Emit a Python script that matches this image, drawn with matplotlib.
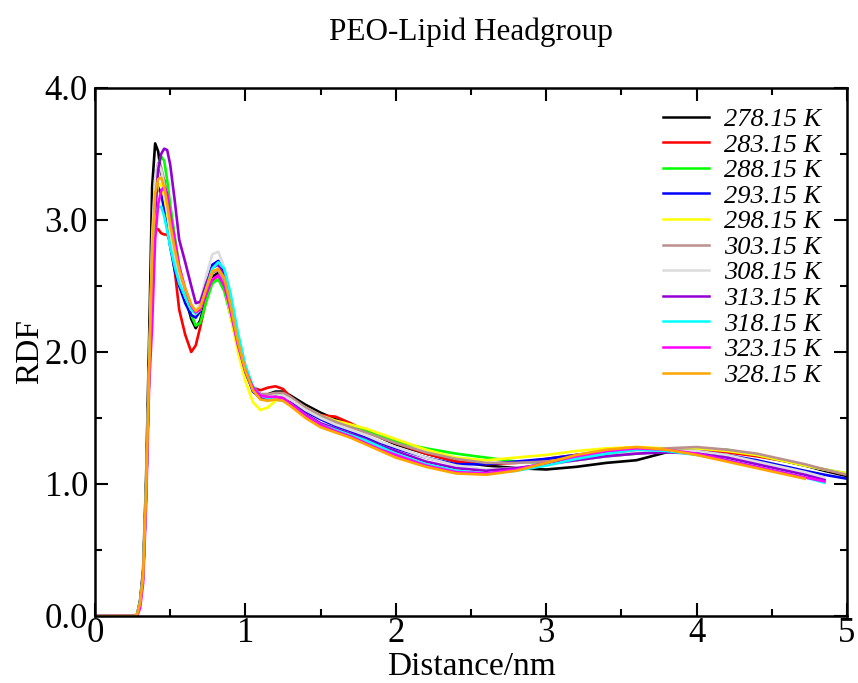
import numpy as np
import matplotlib.pyplot as plt
from matplotlib.ticker import MultipleLocator

plt.rcParams['font.family'] = 'Liberation Serif'

nan = np.nan

# distance grid (nm)
r = [0.00, 0.26, 0.28, 0.30, 0.32, 0.34, 0.36, 0.38, 0.40, 0.42, 0.44, 0.46, 0.48, 0.50,
     0.53, 0.56, 0.60, 0.64, 0.67, 0.70, 0.74, 0.78, 0.82, 0.86, 0.90, 0.95, 1.00, 1.05,
     1.10, 1.15, 1.20, 1.25, 1.30, 1.40, 1.50, 1.60, 1.70, 1.80, 1.90, 2.00, 2.20, 2.40,
     2.60, 2.80, 3.00, 3.20, 3.40, 3.60, 3.80, 4.00, 4.20, 4.40, 4.60, 4.72, 4.85, 5.00]

labels = ['278.15 K', '283.15 K', '288.15 K', '293.15 K', '298.15 K', '303.15 K',
          '308.15 K', '313.15 K', '318.15 K', '323.15 K', '328.15 K']
colors = ['black', 'red', '#00ff00', 'blue', 'yellow', '#bc8f8f',
          '#dcdcdc', '#9400d3', 'cyan', 'magenta', 'orange']

rdf_278 = [0, 0, 0.01, 0.12, 0.35, 1.05, 2.10, 3.25, 3.58, 3.52, 3.35, 3.30, 3.15, 2.95,
           2.75, 2.58, 2.42, 2.25, 2.18, 2.24, 2.42, 2.57, 2.60, 2.50, 2.30, 2.05, 1.85, 1.72,
           1.68, 1.68, 1.70, 1.70, 1.67, 1.60, 1.54, 1.49, 1.45, 1.41, 1.35, 1.30, 1.23, 1.17,
           1.14, 1.12, 1.11, 1.13, 1.16, 1.18, 1.24, 1.27, 1.25, 1.22, 1.17, 1.14, 1.10, 1.06]
rdf_283 = [0, 0, 0.01, 0.10, 0.30, 0.95, 1.85, 2.60, 2.93, 2.93, 2.90, 2.89, 2.89, 2.84,
           2.62, 2.32, 2.13, 2.00, 2.05, 2.19, 2.40, 2.54, 2.58, 2.50, 2.30, 2.05, 1.86, 1.73,
           1.71, 1.73, 1.74, 1.72, 1.66, 1.57, 1.52, 1.51, 1.46, 1.40, 1.35, 1.31, 1.23, 1.17,
           1.15, 1.16, 1.19, 1.22, 1.25, 1.26, 1.27, 1.26, 1.24, 1.21, 1.17, 1.14, 1.11, 1.07]
rdf_288 = [0, 0, 0.01, 0.10, 0.30, 0.95, 1.85, 2.55, 3.20, 3.42, 3.48, 3.45, 3.30, 3.12,
           2.88, 2.65, 2.45, 2.28, 2.20, 2.22, 2.38, 2.52, 2.55, 2.46, 2.28, 2.03, 1.84, 1.72,
           1.67, 1.66, 1.67, 1.67, 1.65, 1.57, 1.51, 1.47, 1.44, 1.40, 1.36, 1.32, 1.27, 1.23,
           1.20, 1.17, 1.16, 1.18, 1.21, 1.23, 1.25, 1.27, 1.26, 1.22, 1.17, 1.14, 1.11, 1.08]
rdf_293 = [0, 0, 0.01, 0.10, 0.30, 0.95, 1.85, 2.70, 3.15, 3.25, 3.20, 3.08, 2.95, 2.80,
           2.62, 2.50, 2.37, 2.28, 2.26, 2.31, 2.50, 2.66, 2.69, 2.60, 2.38, 2.08, 1.86, 1.70,
           1.65, 1.65, 1.66, 1.66, 1.63, 1.55, 1.49, 1.44, 1.40, 1.35, 1.31, 1.27, 1.20, 1.15,
           1.15, 1.17, 1.19, 1.22, 1.24, 1.26, 1.26, 1.25, 1.22, 1.18, 1.13, 1.10, 1.07, 1.04]
rdf_298 = [0, 0, 0.01, 0.10, 0.30, 0.95, 1.85, 2.65, 3.10, 3.27, 3.27, 3.18, 3.05, 2.90,
           2.70, 2.55, 2.42, 2.32, 2.29, 2.32, 2.46, 2.60, 2.63, 2.52, 2.28, 2.00, 1.78, 1.62,
           1.56, 1.58, 1.63, 1.65, 1.64, 1.58, 1.52, 1.48, 1.45, 1.42, 1.38, 1.34, 1.26, 1.20,
           1.18, 1.20, 1.22, 1.25, 1.27, 1.28, 1.27, 1.27, 1.25, 1.22, 1.17, 1.14, 1.11, 1.08]
rdf_303 = [0, 0, 0.01, 0.10, 0.30, 0.95, 1.85, 2.80, 3.30, 3.43, 3.40, 3.30, 3.15, 2.98,
           2.78, 2.60, 2.45, 2.33, 2.30, 2.34, 2.48, 2.60, 2.62, 2.53, 2.32, 2.05, 1.85, 1.72,
           1.68, 1.68, 1.69, 1.69, 1.66, 1.58, 1.52, 1.47, 1.43, 1.39, 1.35, 1.31, 1.24, 1.19,
           1.16, 1.16, 1.17, 1.20, 1.23, 1.25, 1.27, 1.28, 1.26, 1.23, 1.18, 1.15, 1.11, 1.07]
rdf_308 = [0, 0, 0.01, 0.10, 0.30, 0.95, 1.85, 2.85, 3.32, 3.42, 3.38, 3.25, 3.08, 2.92,
           2.72, 2.55, 2.42, 2.32, 2.30, 2.38, 2.58, 2.74, 2.76, 2.64, 2.40, 2.10, 1.87, 1.72,
           1.66, 1.66, 1.67, 1.67, 1.64, 1.56, 1.50, 1.45, 1.41, 1.37, 1.32, 1.28, 1.20, 1.14,
           1.11, 1.12, 1.14, 1.18, 1.21, 1.24, 1.25, 1.25, 1.22, 1.17, 1.12, 1.09, 1.05, nan]
rdf_313 = [0, 0, 0.01, 0.10, 0.30, 0.95, 1.85, 2.40, 3.05, 3.38, 3.50, 3.54, 3.53, 3.42,
           3.15, 2.85, 2.68, 2.50, 2.37, 2.38, 2.52, 2.64, 2.66, 2.57, 2.35, 2.07, 1.85, 1.71,
           1.65, 1.65, 1.66, 1.65, 1.61, 1.53, 1.46, 1.42, 1.38, 1.34, 1.29, 1.25, 1.17, 1.12,
           1.10, 1.12, 1.15, 1.18, 1.21, 1.23, 1.24, 1.23, 1.20, 1.15, 1.10, 1.07, 1.03, nan]
rdf_318 = [0, 0, 0.01, 0.10, 0.30, 0.95, 1.85, 2.60, 2.98, 3.10, 3.10, 3.03, 2.92, 2.80,
           2.65, 2.52, 2.42, 2.32, 2.29, 2.33, 2.48, 2.63, 2.68, 2.63, 2.45, 2.15, 1.90, 1.74,
           1.67, 1.65, 1.64, 1.63, 1.60, 1.52, 1.45, 1.41, 1.37, 1.33, 1.28, 1.23, 1.15, 1.10,
           1.08, 1.10, 1.14, 1.19, 1.23, 1.26, 1.25, 1.22, 1.18, 1.13, 1.08, 1.05, 1.01, nan]
rdf_323 = [0, 0, 0.00, 0.06, 0.25, 0.85, 1.75, 2.20, 2.85, 3.12, 3.22, 3.25, 3.20, 3.05,
           2.85, 2.65, 2.48, 2.35, 2.30, 2.32, 2.44, 2.55, 2.58, 2.50, 2.32, 2.06, 1.86, 1.73,
           1.67, 1.66, 1.66, 1.65, 1.61, 1.52, 1.45, 1.40, 1.36, 1.31, 1.26, 1.22, 1.14, 1.09,
           1.08, 1.11, 1.16, 1.21, 1.25, 1.27, 1.26, 1.23, 1.18, 1.13, 1.08, 1.05, 1.02, nan]
rdf_328 = [0, 0, 0.01, 0.10, 0.30, 0.95, 1.85, 2.75, 3.20, 3.31, 3.32, 3.25, 3.12, 2.97,
           2.78, 2.62, 2.48, 2.36, 2.31, 2.34, 2.48, 2.61, 2.63, 2.56, 2.36, 2.08, 1.86, 1.71,
           1.64, 1.63, 1.64, 1.63, 1.59, 1.50, 1.43, 1.39, 1.35, 1.30, 1.25, 1.20, 1.13, 1.08,
           1.07, 1.10, 1.16, 1.22, 1.26, 1.28, 1.26, 1.22, 1.17, 1.12, 1.07, 1.04, nan, nan]

series = [rdf_278, rdf_283, rdf_288, rdf_293, rdf_298, rdf_303,
          rdf_308, rdf_313, rdf_318, rdf_323, rdf_328]

fig = plt.figure(figsize=(8.58, 6.83), dpi=100)
ax = fig.add_axes([0.1107, 0.0981, 0.8765, 0.7731])

for y, c, lab in zip(series, colors, labels):
    ax.plot(r, y, color=c, lw=1.9, label=lab)

ax.set_xlim(0, 5)
ax.set_ylim(0, 4)
ax.xaxis.set_major_locator(MultipleLocator(1))
ax.xaxis.set_minor_locator(MultipleLocator(0.5))
ax.yaxis.set_major_locator(MultipleLocator(1))
ax.yaxis.set_minor_locator(MultipleLocator(0.5))
ax.set_yticklabels(['%.1f' % v for v in ax.get_yticks()])
ax.tick_params(which='both', direction='in', top=True, right=True, width=1.5, labelsize=25)
ax.tick_params(which='major', length=9.5)
ax.tick_params(axis='x', which='major', pad=1)
ax.tick_params(axis='y', which='major', pad=5)
ax.tick_params(which='minor', length=5)
for s in ax.spines.values():
    s.set_linewidth(1.8)

ax.set_xlabel('Distance/nm', fontsize=24, labelpad=1)
ax.set_ylabel('RDF', fontsize=24, labelpad=0)
fig.text(0.549, 0.953, 'PEO-Lipid Headgroup', fontsize=22.5, ha='center', va='center')

leg = ax.legend(loc='upper left', bbox_to_anchor=(0.738, 0.988), frameon=False,
                prop={'style': 'italic', 'size': 19}, handlelength=1.75,
                handletextpad=0.55, labelspacing=0.08, borderpad=0)
for h in leg.get_lines():
    h.set_linewidth(1.8)

fig.savefig('out.png', dpi=100)
